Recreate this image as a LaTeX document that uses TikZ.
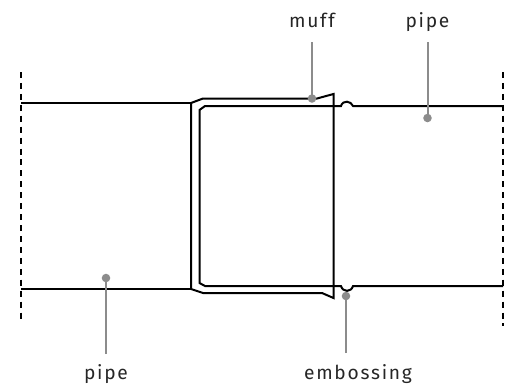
\documentclass[tikz,border=0pt]{standalone}
\usepackage{fontspec}
\setmainfont[LetterSpace=9]{Fira Sans}
\definecolor{leadgray}{HTML}{8C8C8C}
\tikzset{
  pipeline/.style={draw=black,line width=1.5pt,line join=miter},
  thinline/.style={draw=black,line width=1.3pt},
  edgeline/.style={draw=black,line width=1.5pt,dash pattern=on 4.5pt off 3.7pt},
  leader/.style={draw=leadgray,line width=1.5pt},
  dotmark/.style={circle,fill=leadgray,inner sep=0pt,minimum size=6.4pt},
  lbl/.style={font=\fontsize{14.4pt}{16pt}\selectfont,text=black!85,inner sep=0pt,anchor=base}
}
\begin{document}
\begin{tikzpicture}[x=0.75pt,y=-0.75pt]
\useasboundingbox (0,0) rectangle (512,387);
% break lines
\coordinate (lt) at (21,72); \coordinate (lb) at (21,323);
\coordinate (rt) at (503,72); \coordinate (rb) at (503,326);
\draw[edgeline] (lt) -- (lb);
\draw[edgeline] (rt) -- (rb);
% left pipe
\draw[thinline] (21,103) -- (191,103);
\draw[thinline] (21,289) -- (191,289);
% muff
\draw[pipeline] (191,103) -- (203,98.5) -- (317,98.5) -- (333.5,94) -- (333.5,298) -- (322,293) -- (203,293) -- (191,289) -- cycle;
% inner (right) pipe
\draw[pipeline] (503,106) -- (353,106) .. controls (351,101) and (343,99.5) .. (341,106) -- (205,106) -- (199.5,110) -- (199.5,283) -- (205,286) -- (341,286) .. controls (343,292.5) and (351,292.5) .. (353,286) -- (503,286);
% leaders
\node[lbl] (muff) at (312,27) {muff};
\node[lbl] (pipeR) at (427.5,27) {pipe};
\node[lbl] (pipeL) at (106,379) {pipe};
\node[lbl] (emb) at (358,379) {embossing};
\node[dotmark] (dm) at (312,98.5) {};
\node[dotmark] (dr) at (427.5,118) {};
\node[dotmark] (dl) at (106,278) {};
\node[dotmark] (de) at (346,296) {};
\coordinate (tm) at (312,42); \coordinate (tr) at (427.5,42);
\coordinate (tl) at (106,354); \coordinate (te) at (346,353);
\draw[leader] (tm) -- (dm.center);
\draw[leader] (tr) -- (dr.center);
\draw[leader] (tl) -- (dl.center);
\draw[leader] (te) -- (de.center);
\end{tikzpicture}
\end{document}
